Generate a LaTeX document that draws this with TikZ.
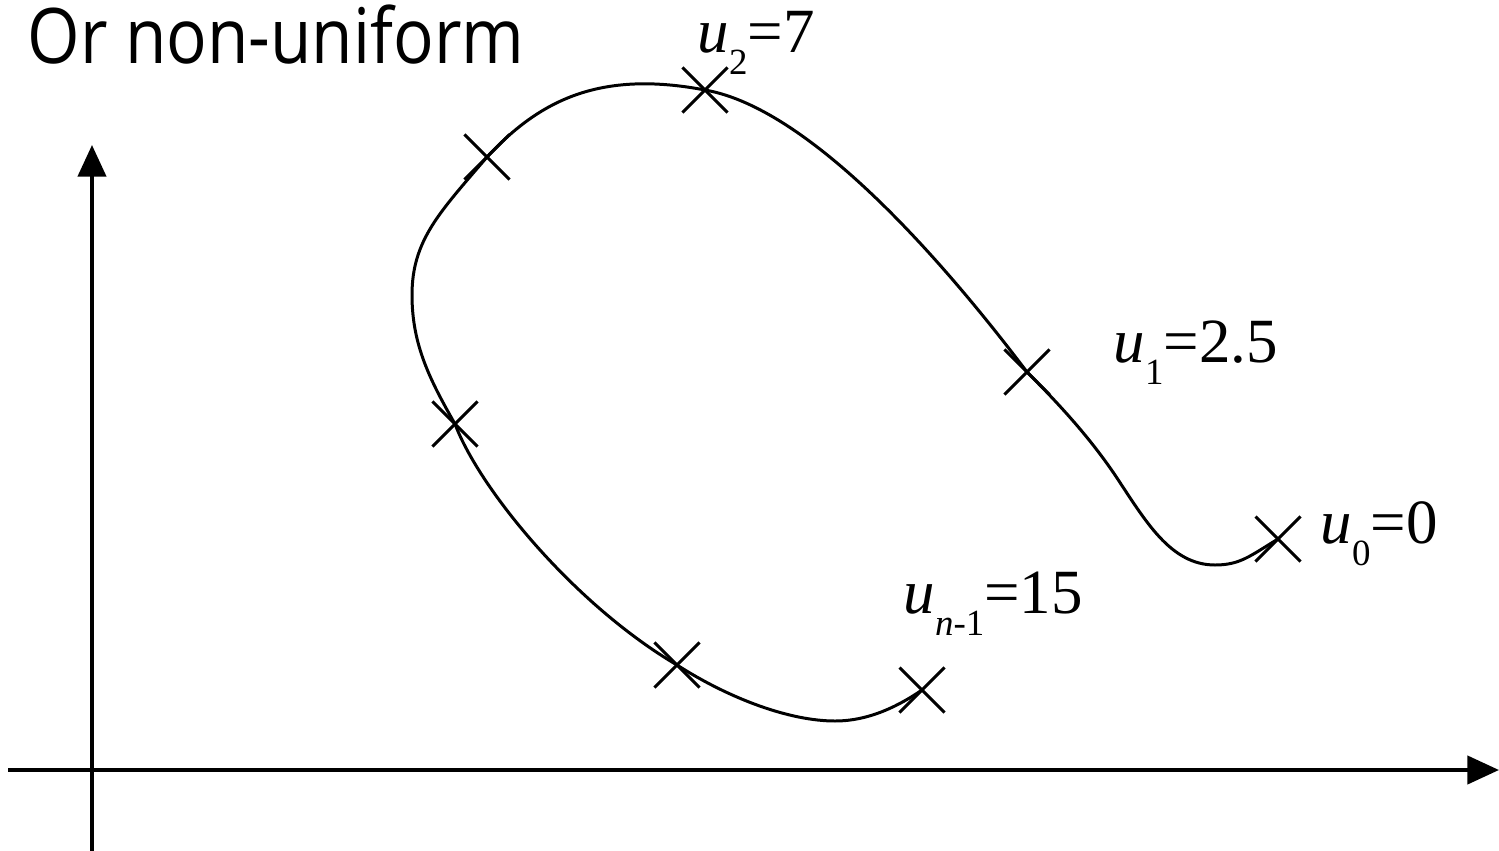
\documentclass[tikz,border=0pt]{standalone}
\usepackage{fontspec}
\setmainfont{Liberation Serif}
\newfontfamily\titlefont{Open Sans}
\usetikzlibrary{arrows.meta,shapes.misc}
\newcommand\ulab[2]{\textit{u}\raisebox{-6.5pt}{\fontsize{10.5}{12}\selectfont #1}=#2}
\tikzset{
  axis/.style={line width=1.1pt,-{Triangle[length=9pt,width=8pt]}},
  curveline/.style={line width=0.85pt},
  crossmark/.style={draw,cross out,line width=0.85pt,minimum size=0.42cm,inner sep=0pt},
  ulabel/.style={anchor=base west,inner sep=0pt,font=\fontsize{17.9}{20}\selectfont},
}
\begin{document}
\begin{tikzpicture}[x=0.01cm,y=-0.01cm]
\useasboundingbox (0,0) rectangle (1499,851);
% axes
\coordinate (xs) at (8,770);
\coordinate (xe) at (1499,770);
\coordinate (ys) at (92,851);
\coordinate (ye) at (92,145);
\draw[axis] (xs) -- (xe);
\draw[axis] (ys) -- (ye);
% marker points
\coordinate (c0) at (1278,539);
\coordinate (c1) at (1027,372);
\coordinate (c2) at (705,90);
\coordinate (c3) at (487,157);
\coordinate (c4) at (455,424);
\coordinate (c5) at (677,665);
\coordinate (c6) at (922,690);
% curve
\draw[curveline] (c0)
  .. controls (1250,556) and (1240,565) .. (1215,565)
  .. controls (1170,565) and (1145,520) .. (1115,475)
  .. controls (1090,438) and (1060,405) .. (c1)
  .. controls (965,290) and (820,110) .. (c2)
  .. controls (600,70) and (540,100) .. (c3)
  .. controls (440,212) and (412,240) .. (412,295)
  .. controls (412,345) and (430,380) .. (c4)
  .. controls (480,490) and (575,605) .. (c5)
  .. controls (730,699) and (790,721) .. (835,721)
  .. controls (870,721) and (900,705) .. (c6);
% crosses
\foreach \i in {0,...,6} \node[crossmark] (m\i) at (c\i) {};
% labels
\node[ulabel] (l2) at (697,52) {\ulab{2}{7}};
\node[ulabel] (l1) at (1113,362) {\ulab{1}{2.5}};
\node[ulabel] (l0) at (1320,543) {\ulab{0}{0}};
\node[ulabel] (ln) at (903,613) {\ulab{\textit{n}-1}{15}};
% title
\node[anchor=base west,inner sep=0pt] (title) at (27,63) {\scalebox{0.88}[1]{\titlefont\fontsize{21.8}{26}\selectfont Or non-uniform}};
\end{tikzpicture}
\end{document}
